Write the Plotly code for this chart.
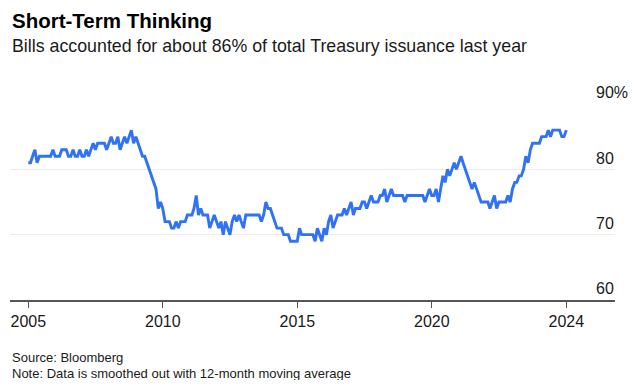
import pandas as pd
import plotly.graph_objects as go

# Share of bills in total Treasury issuance (%, 12-month moving average), monthly
bill_share = [
    81, 81, 82, 83, 81, 82, 82, 82, 82, 82, 82, 83, 82, 82, 82, 83, 83, 83, 82, 82,
    83, 82, 82, 83, 82, 82, 83, 82, 83, 84, 83, 84, 84, 84, 84, 83, 84, 85, 84, 84,
    85, 83, 84, 85, 84, 85, 86, 84, 85, 84, 83, 82, 82, 81, 80, 79, 78, 77, 74, 75,
    74, 72, 72, 72, 71, 71, 72, 71, 72, 72, 72, 73, 73, 73, 74, 76, 73, 74, 73, 73,
    73, 71, 72, 73, 72, 71, 72, 70, 72, 71, 70, 72, 73, 72, 73, 72, 71, 73, 73, 73,
    73, 73, 73, 73, 72, 73, 75, 74, 74, 73, 72, 71, 71, 71, 70, 70, 70, 69, 69, 69,
    69, 71, 70, 70, 70, 70, 70, 70, 69, 71, 70, 69, 71, 70, 72, 73, 71, 72, 73, 73,
    73, 74, 73, 74, 75, 73, 74, 74, 74, 75, 75, 74, 75, 76, 75, 75, 75, 76, 76, 77,
    75, 76, 77, 76, 76, 76, 76, 76, 75, 76, 76, 76, 76, 76, 76, 76, 76, 75, 76, 77,
    76, 76, 77, 75, 77, 79, 78, 80, 79, 80, 81, 80, 81, 82, 81, 80, 79, 78, 77, 78,
    77, 76, 75, 75, 75, 75, 74, 75, 76, 74, 75, 75, 75, 75, 76, 75, 77, 78, 78, 79,
    79, 80, 82, 81, 83, 84, 84, 84, 84, 85, 85, 85, 86, 85, 86, 86, 86, 86, 85, 85,
    86,
]
dates = pd.date_range(end="2024-12-31", periods=len(bill_share), freq="ME")

x_tick_vals = ["2005-01-01", "2010-01-01", "2015-01-01", "2020-01-01", "2024-12-31"]
x_tick_text = ["2005", "2010", "2015", "2020", "2024"]
y_tick_vals = [60, 70, 80, 90]
y_tick_text = ["60", "70", "80", "90%"]

title = "<b>Short-Term Thinking</b>"
subtitle = "Bills accounted for about 86% of total Treasury issuance last year"
source = "Source: Bloomberg"
note = "Note: Data is smoothed out with 12-month moving average"

FONT = "Liberation Sans, Arial, Helvetica, sans-serif"
# the page adds an 8px body margin, so the figure is sized/offset to compensate
OFF = 8
W, H = 642 - 2 * OFF, 388 - 2 * OFF
LEFT, RIGHT = 10 - OFF, 615 - OFF
TOP, BOTTOM = 104 - OFF, 300 - OFF


def py(ypx_page):
    return (BOTTOM - (ypx_page - OFF)) / (BOTTOM - TOP)


fig = go.Figure()
fig.add_trace(go.Scatter(
    x=dates, y=bill_share, mode="lines",
    line=dict(color="#2f72f5", width=2.9),
    hoverinfo="skip",
))

fig.update_layout(
    width=W, height=H,
    margin=dict(l=LEFT, r=W - RIGHT, t=TOP, b=H - BOTTOM, autoexpand=False),
    paper_bgcolor="white", plot_bgcolor="white",
    showlegend=False,
    font=dict(family=FONT, color="#1a1a1a"),
    xaxis=dict(
        type="date",
        automargin=False,
        range=["2004-04-27", "2026-10-23"],
        tickvals=x_tick_vals, ticktext=x_tick_text,
        showgrid=False, zeroline=False,
        showline=True, linecolor="#555555", linewidth=1.5,
        ticks="outside", ticklen=6, tickwidth=1.2, tickcolor="#555555",
        tickfont=dict(size=16, color="#1a1a1a"),
    ),
    yaxis=dict(
        automargin=False,
        range=[60, 90],
        side="right",
        tickvals=y_tick_vals, ticktext=y_tick_text,
        ticklabelposition="outside top",
        ticklabelstandoff=-20,
        showgrid=True, gridcolor="#ececec", gridwidth=1,
        zeroline=False, showline=False, ticks="",
        tickfont=dict(size=16, color="#1a1a1a"),
    ),
)

fig.add_annotation(text=title, xref="paper", yref="paper", x=0, y=py(21),
                   xanchor="left", yanchor="middle", showarrow=False,
                   font=dict(size=20.5, color="#000000", family=FONT))
fig.add_annotation(text=subtitle, xref="paper", yref="paper", x=0, y=py(46),
                   xanchor="left", yanchor="middle", showarrow=False,
                   font=dict(size=17.8, color="#1a1a1a", family=FONT))
fig.add_annotation(text=source, xref="paper", yref="paper", x=0, y=py(357),
                   xanchor="left", yanchor="middle", showarrow=False,
                   font=dict(size=13, color="#1a1a1a", family=FONT))
fig.add_annotation(text=note, xref="paper", yref="paper", x=0, y=py(373),
                   xanchor="left", yanchor="middle", showarrow=False,
                   font=dict(size=13, color="#1a1a1a", family=FONT))

fig.write_html("out.html")
